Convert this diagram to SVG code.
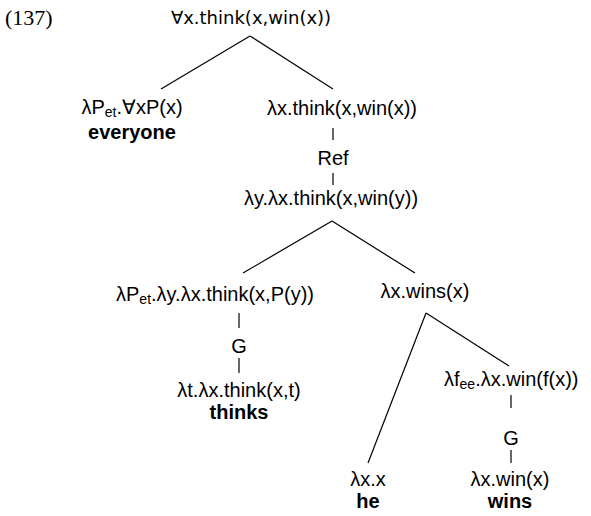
<svg xmlns="http://www.w3.org/2000/svg" width="591" height="516" viewBox="0 0 591 516">
<style>
text{font-family:"Liberation Sans",Arial,sans-serif;font-size:20px;fill:#000;text-anchor:middle}
.b{font-weight:bold}
.st{text-anchor:start}
.top{font-family:"DejaVu Sans",Verdana,sans-serif;font-size:18px}
.num{font-family:"Liberation Serif","Times New Roman",serif;font-size:22px;text-anchor:start}
.sub{font-size:14px}
line{stroke:#000;stroke-width:1.2}
</style>
<rect width="591" height="516" fill="#fff"/>
<text class="num" x="5" y="25">(137)</text>
<g id="connectors">
<line x1="250" y1="36" x2="161" y2="89"/>
<line x1="250" y1="36" x2="333" y2="89"/>
<line x1="333" y1="128" x2="333" y2="140"/>
<line x1="333" y1="173" x2="333" y2="185"/>
<line x1="332" y1="221" x2="243" y2="273"/>
<line x1="332" y1="221" x2="415" y2="273"/>
<line x1="239" y1="313" x2="239" y2="328"/>
<line x1="239" y1="358" x2="239" y2="373"/>
<line x1="426" y1="313" x2="368" y2="463"/>
<line x1="426" y1="313" x2="509" y2="366"/>
<line x1="511" y1="395" x2="511" y2="408"/>
<line x1="511" y1="450" x2="511" y2="463"/>
</g>
<g id="root"><text class="top" x="251" y="24">∀x.think(x,win(x))</text></g>
<g id="everyone"><text x="132" y="114">λP<tspan class="sub" dy="3">et</tspan><tspan dy="-3">.∀xP(x)</tspan></text><text class="b" x="132" y="139">everyone</text></g>
<g id="vp"><text x="342" y="115">λx.think(x,win(x))</text></g>
<g id="ref"><text x="333" y="165">Ref</text></g>
<g id="vp2"><text x="331" y="205">λy.λx.think(x,win(y))</text></g>
<g id="thinkG"><text x="215" y="301">λP<tspan class="sub" dy="3">et</tspan><tspan dy="-3">.λy.λx.think(x,P(y))</tspan></text></g>
<g id="g1"><text x="239" y="353">G</text></g>
<g id="thinks"><text x="239" y="397">λt.λx.think(x,t)</text><text class="b" x="239" y="419">thinks</text></g>
<g id="wins1"><text x="425" y="298">λx.wins(x)</text></g>
<g id="winG"><text class="st" x="444" y="386">λf<tspan class="sub" dy="3">ee</tspan><tspan dy="-3">.λx.win(f(x))</tspan></text></g>
<g id="g2"><text x="511" y="445">G</text></g>
<g id="wins"><text x="510" y="486">λx.win(x)</text><text class="b" x="510" y="508">wins</text></g>
<g id="he"><text x="368" y="486">λx.x</text><text class="b" x="368" y="508">he</text></g>
</svg>
